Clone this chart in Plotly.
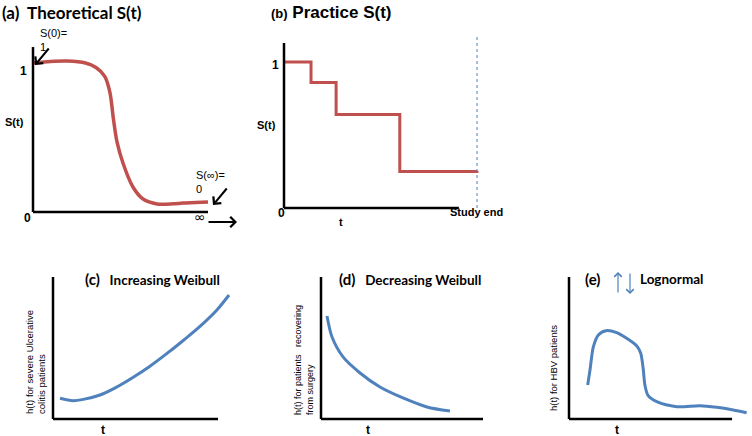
import plotly.graph_objects as go

W, H = 752, 436

# ---------------- data ----------------
# (a) theoretical survival curve
a_t = [0.0, 1.0, 1.94, 3.0, 3.6, 4.1, 4.4, 4.6, 4.8, 5.14, 5.71, 6.29, 7.09, 8.0, 8.57, 9.3, 10.0]
a_s = [1.0, 1.01, 1.013, 1.0, 0.97, 0.91, 0.80, 0.62, 0.47, 0.329, 0.168, 0.087, 0.054, 0.055, 0.06, 0.063, 0.067]

# (b) practice (step) survival curve
b_t = [0.0, 1.4, 2.7, 6.0, 10.0]
b_s = [1.0, 0.86, 0.64, 0.25, 0.255]
study_end = 10.0

# (c) increasing Weibull hazard
c_t = [0.40, 1.15, 1.72, 2.67, 3.62, 4.56, 5.51, 6.46, 7.40, 8.35, 9.30, 10.0]
c_h = [1.46, 1.29, 1.38, 1.69, 2.25, 2.94, 3.72, 4.60, 5.53, 6.52, 7.66, 8.73]

# (d) decreasing Weibull hazard
d_t = [0.37, 0.68, 1.36, 2.41, 3.64, 5.06, 6.54, 7.96]
d_h = [7.25, 5.77, 4.37, 3.24, 2.25, 1.48, 0.85, 0.56]

# (e) lognormal hazard
e_t = [1.05, 1.18, 1.37, 1.65, 2.08, 2.68, 3.24, 3.81, 4.03, 4.17, 4.27, 4.45, 4.93, 6.05, 7.36, 8.30, 9.23, 9.98]
e_h = [2.39, 3.45, 5.09, 5.92, 6.22, 6.08, 5.68, 5.14, 4.63, 3.52, 2.35, 1.64, 1.22, 0.87, 0.94, 0.82, 0.63, 0.44]

RED = "#c0504d"
BLUE = "#4f81bd"

fig = go.Figure()

def px(x):
    return x / W

def py(y):
    return 1 - y / H

# panel geometry: origin pixel, pixel per unit, box (l, t, r, b), axis lengths
panels = [
    dict(ox=33, oy=212, sx=17.5, sy=149, box=(25, 36, 220, 220), xlen=10.0, ylen=1.107),
    dict(ox=284, oy=208, sx=19.3, sy=146, box=(276, 30, 484, 216), xlen=9.06, ylen=1.13),
    dict(ox=53, oy=419, sx=17.6, sy=14.2, box=(45, 268, 236, 427), xlen=9.375, ylen=10.0),
    dict(ox=321, oy=419, sx=16.2, sy=14.2, box=(313, 268, 490, 427), xlen=10.0, ylen=10.0),
    dict(ox=569, oy=419, sx=17.8, sy=14.2, box=(561, 268, 751, 427), xlen=9.16, ylen=10.0),
]

layout_axes = {}
for i, p in enumerate(panels, start=1):
    l, t, r, b = p["box"]
    xname = "xaxis" if i == 1 else f"xaxis{i}"
    yname = "yaxis" if i == 1 else f"yaxis{i}"
    ya = "y" if i == 1 else f"y{i}"
    xa = "x" if i == 1 else f"x{i}"
    layout_axes[xname] = dict(domain=[px(l), px(r)], range=[(l - p["ox"]) / p["sx"], (r - p["ox"]) / p["sx"]],
                              visible=False, anchor=ya, fixedrange=True)
    layout_axes[yname] = dict(domain=[py(b), py(t)], range=[(p["oy"] - b) / p["sy"], (p["oy"] - t) / p["sy"]],
                              visible=False, anchor=xa, fixedrange=True)
    p["xa"], p["ya"] = xa, ya

series = [
    (a_t, a_s, RED, "spline", 3.5, 0.8),
    (b_t, b_s, RED, "hv", 3, 0.8),
    (c_t, c_h, BLUE, "spline", 3, 1.0),
    (d_t, d_h, BLUE, "spline", 3, 0.8),
    (e_t, e_h, BLUE, "spline", 3, 0.8),
]
for p, (xs, ys, col, shape, w, sm) in zip(panels, series):
    fig.add_trace(go.Scatter(x=xs, y=ys, mode="lines", xaxis=p["xa"], yaxis=p["ya"],
                             line=dict(color=col, width=w, shape=shape, smoothing=sm),
                             showlegend=False, hoverinfo="skip"))

shapes = []
for p in panels:
    shapes.append(dict(type="line", xref=p["xa"], yref=p["ya"], x0=0, x1=p["xlen"], y0=0, y1=0,
                       line=dict(color="black", width=2.5)))
    shapes.append(dict(type="line", xref=p["xa"], yref=p["ya"], x0=0, x1=0, y0=0, y1=p["ylen"],
                       line=dict(color="black", width=2.5)))
# study end dashed line
shapes.append(dict(type="line", xref="x2", yref="y2", x0=study_end, x1=study_end, y0=0, y1=1.18,
                   line=dict(color=BLUE, width=1, dash="dot")))

ann = []
def txt(x, y, s, size=11, bold=True, family="Liberation Sans, Arial", xa="center", ya="middle", angle=0, align="center", color="black"):
    ann.append(dict(x=px(x), y=py(y), xref="paper", yref="paper", text=(f"<b>{s}</b>" if bold else s),
                    showarrow=False, xanchor=xa, yanchor=ya, textangle=angle, align=align,
                    font=dict(size=size, family=family, color=color)))

def arrow(hx, hy, tx, ty, color="black", width=2, head=4, size=1.0):
    ann.append(dict(x=px(hx), y=py(hy), xref="paper", yref="paper", ax=tx - hx, ay=ty - hy,
                    axref="pixel", ayref="pixel", text="", showarrow=True, arrowhead=head,
                    arrowsize=size, arrowwidth=width, arrowcolor=color))

CAL = "Lato, Open Sans, sans-serif"
# panel a
txt(0, 12, "(a)  Theoretical S(t)", size=17, family=CAL, xa="left")
txt(38, 40, "S(0)=<br>1", size=11, bold=False, xa="left", align="left")
arrow(35, 65, 50, 47)
txt(23, 71, "1", size=12)
txt(14, 122, "S(t)", size=11)
txt(27, 218, "0", size=12)
txt(200, 217, "∞", size=14, bold=False, family="DejaVu Sans")
txt(194, 182, "S(∞)=<br>0", size=11, bold=False, xa="left", align="left")
arrow(213, 205, 228, 187)
arrow(237, 222, 207, 222)

# panel b
txt(269, 13, "<span style='font-size:13px'>(b)</span> Practice S(t)", size=17, xa="left")
txt(275, 65, "1", size=12)
txt(266, 125, "S(t)", size=11)
txt(281, 213, "0", size=12)
txt(341, 222, "t", size=11)
txt(448, 212, "Study end", size=11, xa="left")

# panel c
txt(83, 279, "<span style='font-size:15px'>(c)</span>   Increasing Weibull", size=13.5, family=CAL, xa="left")
txt(103, 430, "t", size=12)
txt(35, 416, "h(t) for severe Ulcerative<br>colitis patients", size=9.5, bold=False, xa="center", ya="bottom",
    angle=-90, align="left")

# panel d
txt(337, 279, "<span style='font-size:15px'>(d)</span>   Decreasing Weibull", size=13.5, family=CAL, xa="left")
txt(368, 430, "t", size=12)
txt(304, 417, "h(t) for patients   recovering<br>from surgery", size=9, bold=False, xa="center", ya="bottom",
    angle=-90, align="left")

# panel e
txt(592, 279, "(e)", size=15, family=CAL)
arrow(618, 272, 618, 294, color=BLUE, width=1.2, head=4, size=1.2)
arrow(630, 294, 630, 272, color=BLUE, width=1.2, head=4, size=1.2)
txt(638, 279, "Lognormal", size=13.5, family=CAL, xa="left")
txt(617, 430, "t", size=12)
txt(553, 368, "h(t) for HBV patients", size=9.5, bold=False, angle=-90)

fig.update_layout(width=W, height=H, margin=dict(l=0, r=0, t=0, b=0),
                  paper_bgcolor="white", plot_bgcolor="white",
                  shapes=shapes, annotations=ann, showlegend=False, **layout_axes)

fig.write_html("out.html", config={"displayModeBar": False},
               post_script="document.body.style.margin='0';")
